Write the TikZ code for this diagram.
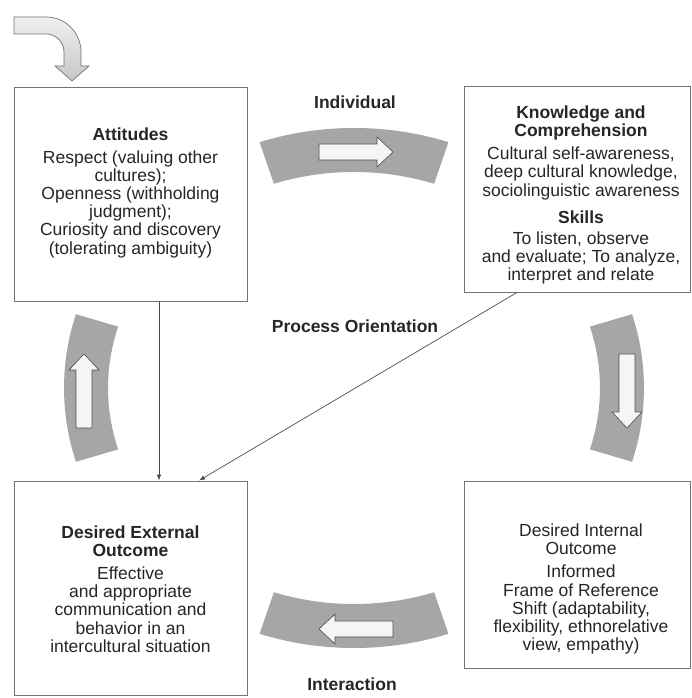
\documentclass[tikz,border=0pt]{standalone}
\usepackage{fontspec}
\setmainfont{Liberation Sans}
\usetikzlibrary{arrows.meta,shadows}
\newcommand{\flowarrow}[2]{%
  \draw[arrowbody, shift={#1}, rotate=#2] (-37,-8) -- (21,-8) -- (21,-15) -- (37,0) -- (21,15) -- (21,8) -- (-37,8) -- cycle;}
\newcommand{\bandpiece}[2]{%
  \fill[bandfill] (#1:290pt and 260pt) arc[start angle=#1, end angle=#2, x radius=290pt, y radius=260pt]
    -- (#2:246pt and 216pt) arc[start angle=#2, end angle=#1, x radius=246pt, y radius=216pt] -- cycle;}
\tikzset{
  panel/.style={draw=black!55, line width=0.9pt, fill=white,
    drop shadow={shadow xshift=1.2pt, shadow yshift=-1.2pt, fill=black!35}},
  txt/.style={align=center, text=black!85, font=\fontsize{17.5}{18.2}\selectfont},
  head/.style={txt, font=\fontsize{17.5}{18.2}\selectfont\bfseries},
  link/.style={draw=black!70, line width=0.7pt, -{Latex[length=6pt,width=4.5pt]}},
  bandfill/.style={fill=black!35},
  arrowbody/.style={draw=black!70, line width=0.6pt, fill=black!4},
  bentarrow/.style={draw=black!55, line width=0.7pt, top color=black!6, bottom color=black!22},
}
\begin{document}
\begin{tikzpicture}[x=1pt, y=1pt]
    \useasboundingbox (0,0) rectangle (691,698);
    \begin{scope}[shift={(354,310)}]
      \bandpiece{71}{109}
      \bandpiece{163.5}{196.5}
      \bandpiece{251}{289}
      \bandpiece{-16.5}{16.5}
    \end{scope}
    \flowarrow{(356,546)}{0}
    \flowarrow{(84,307)}{90}
    \flowarrow{(627,307)}{-90}
    \flowarrow{(356,69)}{180}
    \draw[bentarrow] (14,681) -- (46,681) arc[start angle=90, end angle=0, radius=35pt]
      -- (81,632) -- (89,632) -- (72,617) -- (55,632) -- (64,632) -- (64,646)
      arc[start angle=0, end angle=90, radius=18pt] -- (14,664) -- cycle;
    \node[panel, minimum width=233pt, minimum height=214pt] (att) at (130.5,504) {};
    \node[panel, minimum width=226pt, minimum height=206pt] (know) at (577,509) {};
    \node[panel, minimum width=233pt, minimum height=214pt] (ext) at (130.5,110) {};
    \node[panel, minimum width=226pt, minimum height=187pt] (int) at (577,123.5) {};
    \node[txt] (attText) at (130.5,505) {\textbf{Attitudes}\\[4pt]
      Respect (valuing other\\ cultures);\\ Openness (withholding\\ judgment);\\
      Curiosity and discovery\\ (tolerating ambiguity)};
    \node[txt] (knowText) at (581,503) {\textbf{Knowledge and}\\ \textbf{Comprehension}\\[5pt]
      Cultural self-awareness,\\ deep cultural knowledge,\\ sociolinguistic awareness\\[9pt]
      \textbf{Skills}\\[3pt] To listen, observe\\ and evaluate; To analyze,\\ interpret and relate};
    \node[txt] (extText) at (130.5,109) {\textbf{Desired External}\\ \textbf{Outcome}\\[5pt]
      Effective\\ and appropriate\\ communication and\\ behavior in an\\ intercultural situation};
    \node[txt] (intText) at (581,109) {Desired Internal\\ Outcome\\[5pt]
      Informed\\ Frame of Reference\\ Shift (adaptability,\\ flexibility, ethnorelative\\ view, empathy)};
    \node[head] (individual) at (355,596) {Individual};
    \node[head] (process) at (355,372) {Process Orientation};
    \node[head] (interaction) at (352,14) {Interaction};
    \draw[link] ([xshift=28.5pt]att.south) -- ([xshift=28.5pt]ext.north);
    \draw[link] ([xshift=-60pt]know.south) -- ([xshift=68.5pt]ext.north);
\end{tikzpicture}
\end{document}
